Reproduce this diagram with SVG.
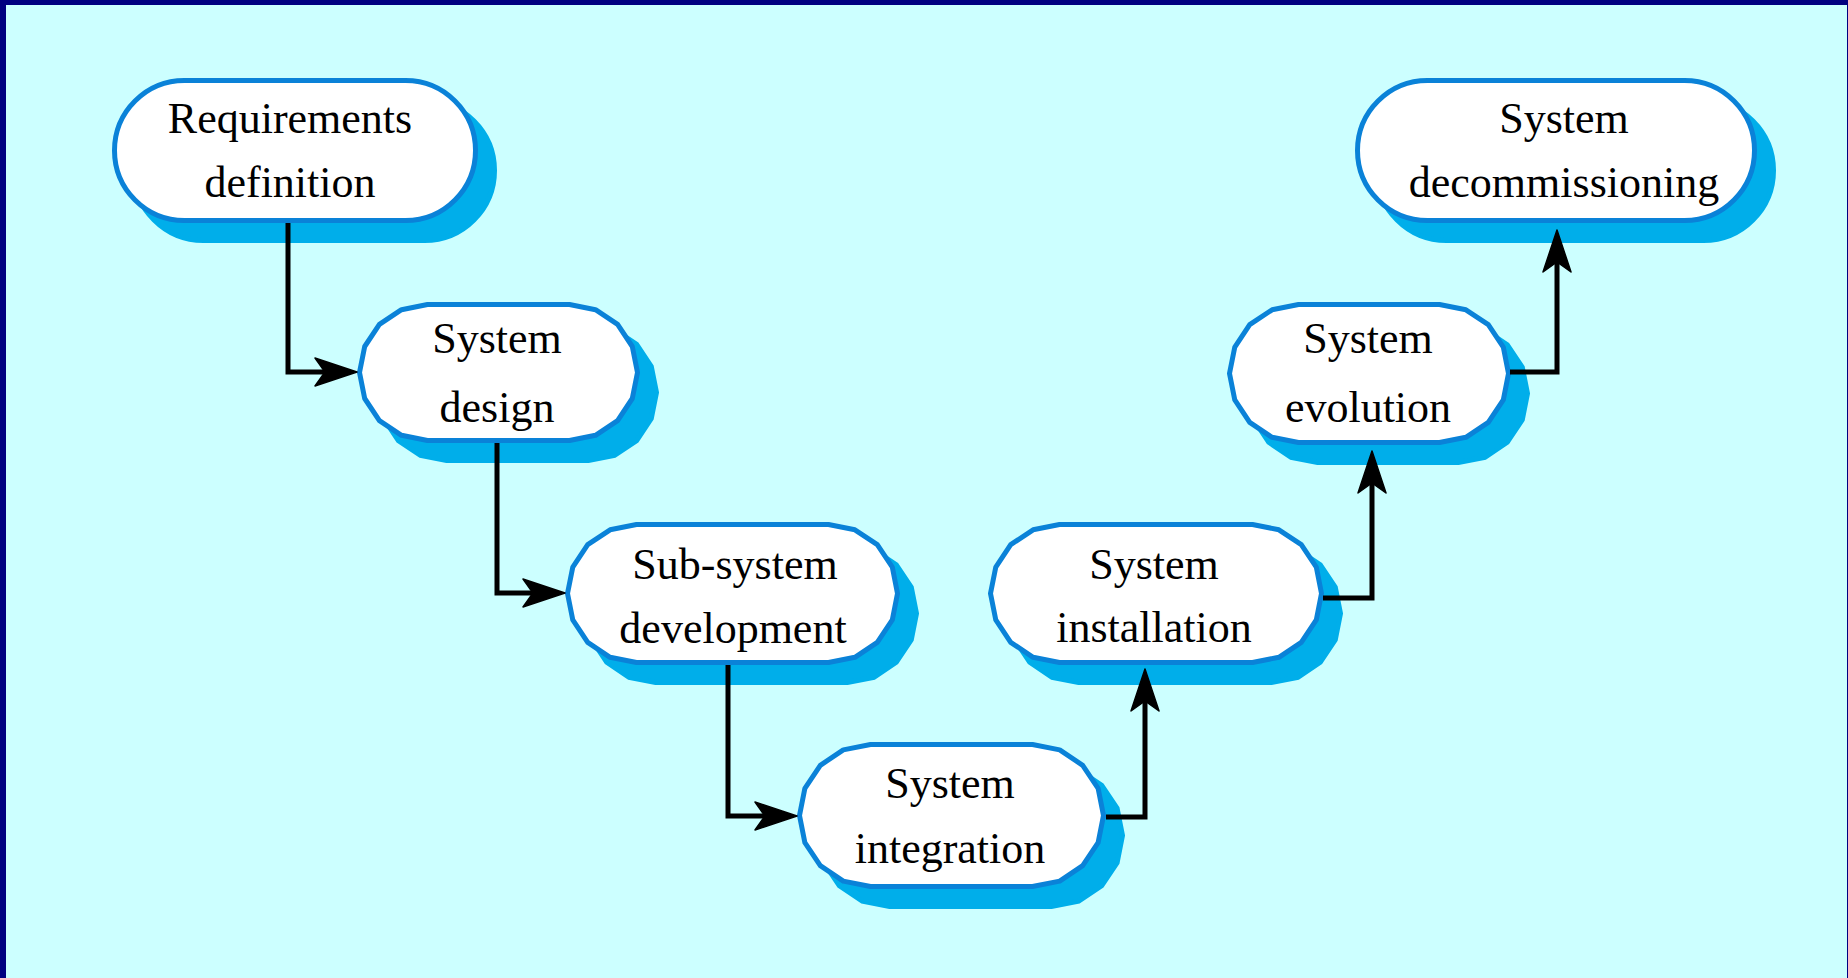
<svg xmlns="http://www.w3.org/2000/svg" width="1848" height="978" viewBox="0 0 1848 978">
  <style>
    .shadow { fill: #00AEEA; stroke: #00AEEA; stroke-width: 5; }
    .body { fill: #FFFFFF; stroke: #0A82D8; stroke-width: 5; stroke-linejoin: round; }
    .label { font-family: "Liberation Serif", "Times New Roman", serif; font-size: 44px; fill: #000000; text-anchor: middle; }
    .link { fill: none; stroke: #000000; stroke-width: 5; stroke-linejoin: miter; }
  </style>
  <defs>
    <!-- filled arrowhead with a shallow notch; the line stops just past the notch -->
    <marker id="arrow" markerUnits="userSpaceOnUse" viewBox="-14 -16 48 32" markerWidth="48" markerHeight="32" refX="0" refY="0" orient="auto" overflow="visible">
      <path d="M30,0 L-12,-14 L-2,0 L-12,14 Z" fill="#000000" stroke="#000000" stroke-width="1.5" stroke-linejoin="round"/>
    </marker>
  </defs>

  <!-- slide background with frame -->
  <rect x="0" y="0" width="1848" height="978" fill="#000080"/>
  <rect x="6" y="5" width="1841" height="973" fill="#CCFFFF"/>

  <g id="node-requirements">
    <rect class="shadow" x="133.5" y="100.5" width="361" height="140" rx="70" ry="70"/>
    <rect class="body" x="114.5" y="80.5" width="361" height="140" rx="70" ry="70"/>
    <text class="label" x="290" y="133">Requirements</text>
    <text class="label" x="290" y="197">definition</text>
  </g>

  <g id="node-system-design">
    <polygon class="shadow" transform="translate(19 20)" points="569.5,304.5 595.5,309.7 617.6,324.4 632.3,346.5 637.5,372.5 632.3,398.5 617.6,420.6 595.5,435.3 569.5,440.5 427.5,440.5 401.5,435.3 379.4,420.6 364.7,398.5 359.5,372.5 364.7,346.5 379.4,324.4 401.5,309.7 427.5,304.5"/>
    <polygon class="body" points="569.5,304.5 595.5,309.7 617.6,324.4 632.3,346.5 637.5,372.5 632.3,398.5 617.6,420.6 595.5,435.3 569.5,440.5 427.5,440.5 401.5,435.3 379.4,420.6 364.7,398.5 359.5,372.5 364.7,346.5 379.4,324.4 401.5,309.7 427.5,304.5"/>
    <text class="label" x="497" y="353">System</text>
    <text class="label" x="497" y="422">design</text>
  </g>

  <g id="node-subsystem-development">
    <polygon class="shadow" transform="translate(19 20)" points="828.5,524.5 854.9,529.8 877.3,544.7 892.3,567.1 897.5,593.5 892.3,619.9 877.3,642.3 854.9,657.3 828.5,662.5 636.5,662.5 610.1,657.3 587.7,642.3 572.8,619.9 567.5,593.5 572.8,567.1 587.7,544.7 610.1,529.8 636.5,524.5"/>
    <polygon class="body" points="828.5,524.5 854.9,529.8 877.3,544.7 892.3,567.1 897.5,593.5 892.3,619.9 877.3,642.3 854.9,657.3 828.5,662.5 636.5,662.5 610.1,657.3 587.7,642.3 572.8,619.9 567.5,593.5 572.8,567.1 587.7,544.7 610.1,529.8 636.5,524.5"/>
    <text class="label" x="735" y="579">Sub-system</text>
    <text class="label" x="733" y="643">development</text>
  </g>

  <g id="node-system-integration">
    <polygon class="shadow" transform="translate(19 20)" points="1032.5,744.5 1059.7,749.9 1082.7,765.3 1098.1,788.3 1103.5,815.5 1098.1,842.7 1082.7,865.7 1059.7,881.1 1032.5,886.5 870.5,886.5 843.3,881.1 820.3,865.7 804.9,842.7 799.5,815.5 804.9,788.3 820.3,765.3 843.3,749.9 870.5,744.5"/>
    <polygon class="body" points="1032.5,744.5 1059.7,749.9 1082.7,765.3 1098.1,788.3 1103.5,815.5 1098.1,842.7 1082.7,865.7 1059.7,881.1 1032.5,886.5 870.5,886.5 843.3,881.1 820.3,865.7 804.9,842.7 799.5,815.5 804.9,788.3 820.3,765.3 843.3,749.9 870.5,744.5"/>
    <text class="label" x="950" y="798">System</text>
    <text class="label" x="950" y="863">integration</text>
  </g>

  <g id="node-system-installation">
    <polygon class="shadow" transform="translate(19 20)" points="1252.5,524.5 1278.9,529.8 1301.3,544.7 1316.3,567.1 1321.5,593.5 1316.3,619.9 1301.3,642.3 1278.9,657.3 1252.5,662.5 1059.5,662.5 1033.1,657.3 1010.7,642.3 995.8,619.9 990.5,593.5 995.8,567.1 1010.7,544.7 1033.1,529.8 1059.5,524.5"/>
    <polygon class="body" points="1252.5,524.5 1278.9,529.8 1301.3,544.7 1316.3,567.1 1321.5,593.5 1316.3,619.9 1301.3,642.3 1278.9,657.3 1252.5,662.5 1059.5,662.5 1033.1,657.3 1010.7,642.3 995.8,619.9 990.5,593.5 995.8,567.1 1010.7,544.7 1033.1,529.8 1059.5,524.5"/>
    <text class="label" x="1154" y="579">System</text>
    <text class="label" x="1154" y="642">installation</text>
  </g>

  <g id="node-system-evolution">
    <polygon class="shadow" transform="translate(19 20)" points="1439.5,304.5 1465.9,309.8 1488.3,324.7 1503.3,347.1 1508.5,373.5 1503.3,399.9 1488.3,422.3 1465.9,437.3 1439.5,442.5 1298.5,442.5 1272.1,437.3 1249.7,422.3 1234.8,399.9 1229.5,373.5 1234.8,347.1 1249.7,324.7 1272.1,309.8 1298.5,304.5"/>
    <polygon class="body" points="1439.5,304.5 1465.9,309.8 1488.3,324.7 1503.3,347.1 1508.5,373.5 1503.3,399.9 1488.3,422.3 1465.9,437.3 1439.5,442.5 1298.5,442.5 1272.1,437.3 1249.7,422.3 1234.8,399.9 1229.5,373.5 1234.8,347.1 1249.7,324.7 1272.1,309.8 1298.5,304.5"/>
    <text class="label" x="1368" y="353">System</text>
    <text class="label" x="1368" y="422">evolution</text>
  </g>

  <g id="node-system-decommissioning">
    <rect class="shadow" x="1376.5" y="100.5" width="397" height="140" rx="70" ry="70"/>
    <rect class="body" x="1357.5" y="80.5" width="397" height="140" rx="70" ry="70"/>
    <text class="label" x="1564" y="133">System</text>
    <text class="label" x="1564" y="197">decommissioning</text>
  </g>

  <g id="connectors">
    <polyline class="link" points="288,223 288,372 327,372" marker-end="url(#arrow)"/>
    <polyline class="link" points="497,443 497,593 535,593" marker-end="url(#arrow)"/>
    <polyline class="link" points="728,665 728,816 767,816" marker-end="url(#arrow)"/>
    <polyline class="link" points="1106,817 1145,817 1145,699" marker-end="url(#arrow)"/>
    <polyline class="link" points="1323,598 1372,598 1372,481" marker-end="url(#arrow)"/>
    <polyline class="link" points="1510,372 1557,372 1557,260" marker-end="url(#arrow)"/>
  </g>
</svg>
